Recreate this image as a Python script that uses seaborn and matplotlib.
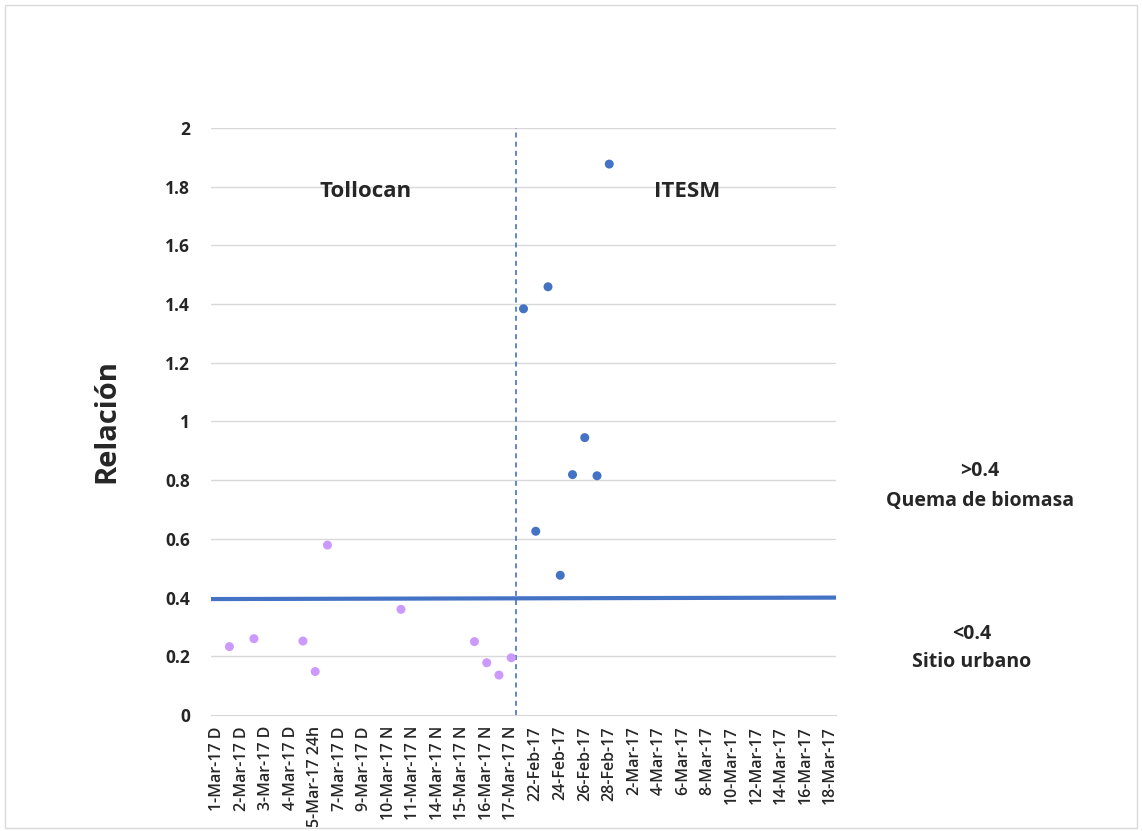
import numpy as np
import pandas as pd
import matplotlib
matplotlib.use("Agg")
import matplotlib.pyplot as plt
import seaborn as sns

# category labels (shown on every second category)
tollocan_labels = ["1-Mar-17 D", "2-Mar-17 D", "3-Mar-17 D", "4-Mar-17 D", "5-Mar-17 24h",
                   "7-Mar-17 D", "9-Mar-17 D", "10-Mar-17 N", "11-Mar-17 N", "14-Mar-17 N",
                   "15-Mar-17 N", "16-Mar-17 N", "17-Mar-17 N"]
itesm_labels = ["22-Feb-17", "24-Feb-17", "26-Feb-17", "28-Feb-17", "2-Mar-17", "4-Mar-17",
                "6-Mar-17", "8-Mar-17", "10-Mar-17", "12-Mar-17", "14-Mar-17", "16-Mar-17",
                "18-Mar-17"]
n_categories = 51

# series values (category index, ratio)
tollocan_pos = [1, 3, 7, 8, 9, 15, 21, 22, 23, 24]
tollocan_val = [0.233, 0.260, 0.252, 0.148, 0.579, 0.360, 0.250, 0.178, 0.136, 0.195]
itesm_pos = [25, 26, 27, 28, 29, 30, 31, 32]
itesm_val = [1.384, 0.626, 1.459, 0.476, 0.819, 0.945, 0.815, 1.877]

threshold_start = 0.395
threshold_end = 0.400
split_pos = 24.4

df = pd.DataFrame({
    "pos": tollocan_pos + itesm_pos,
    "ratio": tollocan_val + itesm_val,
    "sitio": ["Tollocan"] * len(tollocan_pos) + ["ITESM"] * len(itesm_pos),
})

sns.set_style("white")
plt.rcParams["font.family"] = ["Open Sans", "DejaVu Sans"]

fig = plt.figure(figsize=(11.42, 8.31), dpi=100)
ax = fig.add_axes([0.1848, 0.1396, 0.5472, 0.7064])

# light frame round the chart area
fig.patches.append(plt.Rectangle((0.004, 0.004), 0.992, 0.99, transform=fig.transFigure,
                                 fill=False, edgecolor="#D9D9D9", linewidth=1))

for v in np.arange(0.2, 2.01, 0.2):
    ax.axhline(v, color="#D9D9D9", linewidth=1, zorder=0)

ax.plot([-0.5, n_categories - 0.5], [threshold_start, threshold_end],
        color="#4472C4", linewidth=3, zorder=1)
ax.axvline(split_pos, color="#4472C4", linestyle=(0, (3, 2.5)), linewidth=1.2, zorder=1)

sns.scatterplot(data=df, x="pos", y="ratio", hue="sitio",
                palette={"Tollocan": "#CC99FF", "ITESM": "#4472C4"},
                s=42, edgecolor="none", legend=False, ax=ax, zorder=3)

ax.set_xlim(-0.5, n_categories - 0.5)
ax.set_ylim(0, 2)
ax.set_xticks(range(0, n_categories, 2))
ax.set_xticklabels(tollocan_labels + itesm_labels, rotation=90, fontsize=11.5,
                   fontweight="semibold")
ax.set_yticks(np.arange(0, 2.01, 0.2))
ax.set_yticklabels(["0", "0.2", "0.4", "0.6", "0.8", "1", "1.2", "1.4", "1.6", "1.8", "2"],
                   fontsize=12.5, fontweight="bold")
ax.tick_params(axis="x", length=0, pad=8)
ax.tick_params(axis="y", length=0, pad=15)

for side in ["top", "right", "left"]:
    ax.spines[side].set_visible(False)
ax.spines["bottom"].set_color("#D9D9D9")

ax.set_xlabel("")
ax.set_ylabel("Relación", fontsize=21, fontweight="bold", labelpad=32)

ax.text(0.248, 0.892, "Tollocan", transform=ax.transAxes, ha="center", va="center",
        fontsize=16, fontweight="bold")
ax.text(0.762, 0.892, "ITESM", transform=ax.transAxes, ha="center",
        va="center", fontsize=16, fontweight="bold")

fig.text(0.858, 0.433, ">0.4", ha="center", va="center", fontsize=14, fontweight="bold")
fig.text(0.858, 0.397, "Quema de biomasa", ha="center", va="center", fontsize=14,
         fontweight="bold")
fig.text(0.851, 0.237, "<0.4", ha="center", va="center", fontsize=14, fontweight="bold")
fig.text(0.851, 0.203, "Sitio urbano", ha="center", va="center", fontsize=14,
         fontweight="bold")

fig.savefig("out.png", dpi=100, facecolor="white")
